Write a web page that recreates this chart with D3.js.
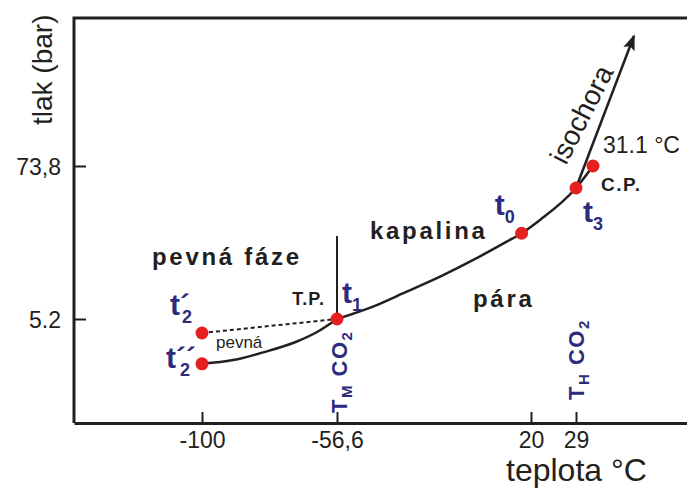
<!DOCTYPE html>
<html>
<head>
<meta charset="utf-8">
<script src="https://cdn.jsdelivr.net/npm/d3@7"></script>
<style>
body { margin: 0; background: #fff; }
text { font-family: "Liberation Sans", Arial, sans-serif; }
</style>
</head>
<body>
<div class="chart"></div>
<script>
// axis ticks
const tempTicks = [-100, -56.6, 20, 29];
const tempTickLabels = ["-100", "-56,6", "20", "29"];
const pressTicks = [5.2, 73.8];
const pressTickLabels = ["5.2", "73,8"];

// phase boundaries: temperature (°C) / pressure (bar)
const sublimT = [-100, -90, -80, -69.5, -63, -56.6];
const sublimP = [2.39, 2.55, 2.93, 3.52, 4.15, 5.2];
const metastT = [-100, -56.6];
const metastP = [4.08, 5.2];
const meltT = [-56.6, -56.6];
const meltP = [5.2, 21.9];
const vaporT = [-56.6, -42.4, -29.1, -15.9, -2.8, 10.4, 16.3, 21.8, 29, 31.1];
const vaporP = [5.2, 6.44, 8.35, 10.83, 14.47, 19.87, 23.0, 28.95, 50.4, 73.8];
const isoT = [29, 40.2];
const isoP = [50.4, 703];

// marked points
const ptT = [-100, -100, -56.6, 16.3, 29, 31.1];
const ptP = [4.08, 2.39, 5.2, 23.0, 50.4, 73.8];

const W = 687, H = 489;
const box = {left: 74, top: 18, right: 687, bottom: 423};
const ink = "#231f20", navy = "#2e2a7c", red = "#e4211f";

const svg = d3.select(".chart")
    .append("svg")
        .attr("width", W)
        .attr("height", H);

// schematic (non-linear) temperature axis, log pressure axis
const x = d3.scaleLinear()
    .domain([-141, -100, -56.6, 20, 29, 31.1, 52])
    .range([box.left, 202, 337, 531, 576, 593, box.right]);
const y = d3.scaleLog()
    .domain([5.2, 73.8])
    .range([319, 166]);

// arrow head
svg.append("defs").append("marker")
    .attr("id", "arrow")
    .attr("viewBox", "0 0 16 12")
    .attr("refX", 14).attr("refY", 6)
    .attr("markerWidth", 16).attr("markerHeight", 12)
    .attr("markerUnits", "userSpaceOnUse")
    .attr("orient", "auto")
    .append("path")
        .attr("d", "M0,0L16,6L0,12L3,6Z")
        .attr("fill", ink);

// frame (left + top)
svg.append("path")
    .attr("d", `M${box.right},${box.top}H${box.left}V${box.bottom}`)
    .attr("fill", "none")
    .attr("stroke", ink)
    .attr("stroke-width", 3);

// x axis
const gx = svg.append("g")
    .attr("transform", "translate(0," + box.bottom + ")")
    .call(d3.axisBottom(x).tickValues(tempTicks).tickSize(-11).tickSizeOuter(0)
        .tickFormat((d, i) => tempTickLabels[i]));
gx.select(".domain").attr("stroke", ink).attr("stroke-width", 3);
gx.selectAll(".tick line").attr("stroke", ink).attr("stroke-width", 2);
gx.selectAll(".tick text")
    .attr("y", 25).attr("dy", 0)
    .attr("fill", ink)
    .style("font-size", "23px")
    .style("font-family", "'Liberation Sans', Arial, sans-serif");

// y axis
const gy = svg.append("g")
    .attr("transform", "translate(" + box.left + ",0)")
    .call(d3.axisLeft(y).tickValues(pressTicks).tickSize(-12)
        .tickFormat((d, i) => pressTickLabels[i]));
gy.select(".domain").remove();
gy.selectAll(".tick line").attr("stroke", ink).attr("stroke-width", 2);
gy.selectAll(".tick text")
    .attr("x", -13).attr("dy", "0.36em")
    .attr("fill", ink)
    .style("font-size", "23px")
    .style("font-family", "'Liberation Sans', Arial, sans-serif");

// axis titles
svg.append("text")
    .attr("transform", "translate(52,125) rotate(-90)")
    .attr("fill", ink)
    .style("font-size", "28px")
    .text("tlak (bar)");
svg.append("text")
    .attr("x", 506).attr("y", 481)
    .attr("fill", ink)
    .style("font-size", "32px")
    .text("teplota °C");

// curves
const line = (ts, ps) => d3.line()
    .x(i => x(ts[i]))
    .y(i => y(ps[i]))
    .curve(ts.length > 2 ? d3.curveMonotoneX : d3.curveLinear)(d3.range(ts.length));

svg.append("path")
    .attr("d", line(metastT, metastP))
    .attr("fill", "none").attr("stroke", ink)
    .attr("stroke-width", 2).attr("stroke-dasharray", "4,3");
svg.append("path")
    .attr("d", line(sublimT, sublimP))
    .attr("fill", "none").attr("stroke", ink).attr("stroke-width", 2.5);
svg.append("path")
    .attr("d", line(meltT, meltP))
    .attr("fill", "none").attr("stroke", ink).attr("stroke-width", 2);
svg.append("path")
    .attr("d", line(vaporT, vaporP))
    .attr("fill", "none").attr("stroke", ink).attr("stroke-width", 2.5);
svg.append("path")
    .attr("d", line(isoT, isoP))
    .attr("fill", "none").attr("stroke", ink).attr("stroke-width", 2.5)
    .attr("marker-end", "url(#arrow)");

// points
svg.selectAll("circle.pt")
    .data(d3.range(ptT.length))
    .enter()
    .append("circle")
        .attr("class", "pt")
        .attr("cx", i => x(ptT[i]))
        .attr("cy", i => y(ptP[i]))
        .attr("r", 6.5)
        .attr("fill", red);

// t labels with subscripts (subscript tucked under the primes)
function tLabel(px, py, primes, sub) {
    const t = svg.append("text")
        .attr("x", px).attr("y", py)
        .attr("fill", navy)
        .style("font-weight", "bold")
        .style("font-size", "30px");
    t.append("tspan").text("t" + primes);
    t.append("tspan")
        .attr("dx", -primes.length * 8)
        .attr("dy", 8)
        .style("font-size", "18px")
        .text(sub);
}
tLabel(x(ptT[0]) - 32, y(ptP[0]) - 18, "´", "2");
tLabel(x(ptT[1]) - 36, y(ptP[1]) + 4, "´´", "2");
tLabel(x(ptT[2]) + 5, y(ptP[2]) - 16, "", "1");
tLabel(x(ptT[3]) - 27, y(ptP[3]) - 18, "", "0");
tLabel(x(ptT[4]) + 7, y(ptP[4]) + 34, "", "3");

// vertical T labels
function vLabel(px, py, sub) {
    const t = svg.append("text")
        .attr("transform", `translate(${px},${py}) rotate(-90)`)
        .attr("fill", navy)
        .style("font-weight", "bold")
        .style("font-size", "22px")
        .style("letter-spacing", "1.5px");
    t.append("tspan").text("T");
    t.append("tspan").attr("dy", 5).style("font-size", "15px").text(sub);
    t.append("tspan").attr("dy", -5).text(" CO");
    t.append("tspan").attr("dy", 5).style("font-size", "15px").text("2");
}
vLabel(x(-56.6) + 10, 413, "M");
vLabel(x(29) + 8, 400, "H");

// region labels
const region = (px, py, s) => svg.append("text")
    .attr("x", px).attr("y", py)
    .attr("fill", ink)
    .style("font-weight", "bold")
    .style("font-size", "24px")
    .style("letter-spacing", "2.7px")
    .text(s);
region(152, 265, "pevná fáze");
region(370, 239, "kapalina");
region(473, 307, "pára");

// small annotations
svg.append("text")
    .attr("x", 216).attr("y", 348)
    .attr("fill", ink).style("font-size", "17px")
    .text("pevná");
svg.append("text")
    .attr("x", x(ptT[2]) - 12).attr("y", y(ptP[2]) - 14)
    .attr("text-anchor", "end")
    .attr("fill", ink)
    .style("font-weight", "bold").style("font-size", "18px").style("letter-spacing", "1px")
    .text("T.P.");
svg.append("text")
    .attr("x", x(ptT[5]) + 8).attr("y", y(ptP[5]) + 25)
    .attr("fill", ink)
    .style("font-weight", "bold").style("font-size", "19px").style("letter-spacing", "1.5px")
    .text("C.P.");
svg.append("text")
    .attr("x", x(ptT[5]) + 10).attr("y", y(ptP[5]) - 13)
    .attr("fill", ink)
    .style("font-size", "23px")
    .text("31.1 °C");
svg.append("text")
    .attr("transform", `translate(${x(isoT[0]) - 10},${y(isoP[0]) - 22}) rotate(-63)`)
    .attr("fill", ink)
    .style("font-size", "28px")
    .text("isochora");
</script>
</body>
</html>
